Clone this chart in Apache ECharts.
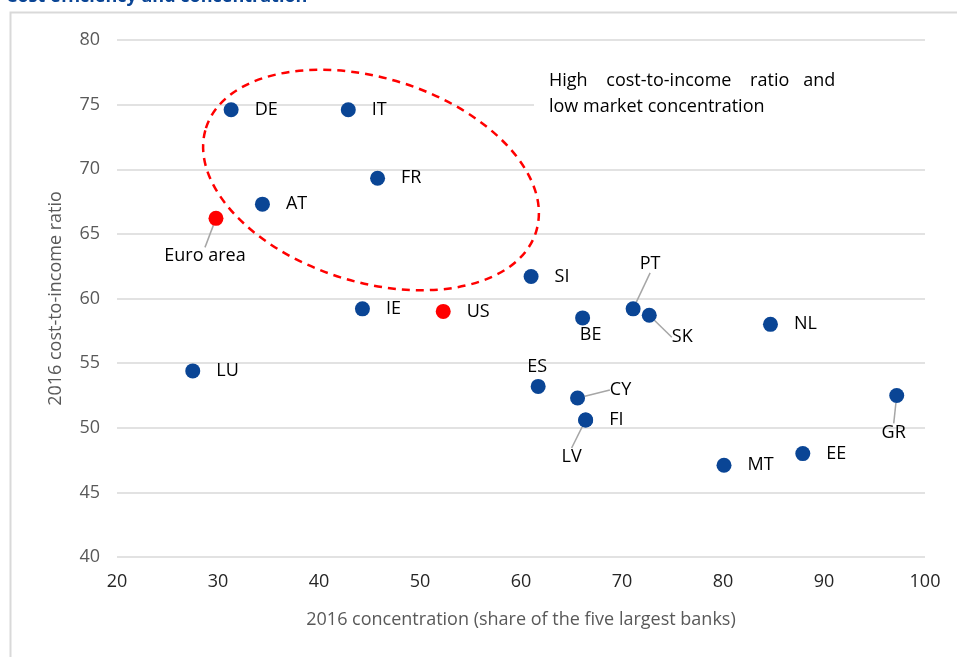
<!DOCTYPE html>
<html>
<head>
<meta charset="utf-8">
<script src="https://cdn.jsdelivr.net/npm/echarts@6/dist/echarts.min.js"></script>
<style>
  html, body { margin: 0; padding: 0; background: #fff; }
  #main { width: 957px; height: 657px; }
</style>
</head>
<body>
<div id="main"></div>
<script>
// countries (concentration, cost-to-income)
const countries = ['DE', 'IT', 'FR', 'AT', 'Euro area', 'SI', 'IE', 'US', 'BE', 'PT', 'SK', 'NL', 'LU', 'ES', 'CY', 'LV', 'FI', 'GR', 'MT', 'EE']
const concentration = [31.3, 42.9, 45.8, 34.4, 29.8, 61.0, 44.3, 52.3, 66.1, 71.1, 72.7, 84.7, 27.5, 61.7, 65.6, 66.4, 66.4, 97.2, 80.1, 87.9]
const costIncome = [74.6, 74.6, 69.3, 67.3, 66.2, 61.7, 59.2, 59.0, 58.5, 59.2, 58.7, 58.0, 54.4, 53.2, 52.3, 50.6, 50.6, 52.5, 47.1, 48.0]
const highlighted = ['Euro area', 'US']
const xTicks = { min: 20, max: 100, interval: 10 }
const yTicks = { min: 40, max: 80, interval: 5 }

// labels that are not simply on the right: offset (px) of label centre from the dot
const labelMoves = {
  'Euro area': { dx: -11, dy: 38, line: true },
  PT: { dx: 17, dy: -45, line: true },
  SK: { dx: 33, dy: 22, line: true },
  BE: { dx: 8, dy: 17 },
  ES: { dx: -1, dy: -20 },
  CY: { dx: 43, dy: -8, line: true },
  LV: { dx: -14, dy: 37, line: true },
  GR: { dx: -3, dy: 37, line: true },
}

const blue = '#0a4595'
const red = '#ff0000'
const font = 'Open Sans'

const points = countries.map((c, i) => {
  const m = labelMoves[c]
  const item = {
    name: c,
    value: [concentration[i], costIncome[i]],
    itemStyle: { color: highlighted.includes(c) ? red : blue, opacity: 1 },
  }
  if (m) {
    item.label = { position: 'inside' }
    item.labelLine = { show: !!m.line }
  }
  return item
})

const chart = echarts.init(document.getElementById('main'))
chart.setOption({
  animation: false,
  textStyle: { fontFamily: font },
  grid: { left: 117, right: 32, top: 40, bottom: 100 },
  xAxis: {
    type: 'value',
    min: xTicks.min,
    max: xTicks.max,
    interval: xTicks.interval,
    name: '2016 concentration (share of the five largest banks)',
    nameLocation: 'middle',
    nameGap: 54,
    nameTextStyle: { color: '#595959', fontSize: 18 },
    axisLine: { show: false },
    axisTick: { show: false },
    splitLine: { show: false },
    axisLabel: { color: '#262626', fontSize: 18, margin: 16 },
  },
  yAxis: {
    type: 'value',
    min: yTicks.min,
    max: yTicks.max,
    interval: yTicks.interval,
    name: '2016 cost-to-income ratio',
    nameLocation: 'middle',
    nameGap: 52,
    nameTextStyle: { color: '#595959', fontSize: 18 },
    axisLine: { show: false },
    axisTick: { show: false },
    splitLine: { lineStyle: { color: '#d9d9d9', width: 1.5 } },
    axisLabel: { color: '#595959', fontSize: 18, margin: 17 },
  },
  series: [
    {
      type: 'scatter',
      symbolSize: 15,
      data: points,
      z: 20,
      label: {
        show: true,
        position: 'right',
        distance: 16,
        color: '#000',
        fontSize: 18,
        formatter: '{b}',
      },
      labelLine: { show: false, lineStyle: { color: '#a6a6a6', width: 1.5 } },
      labelLayout: (p) => {
        const m = labelMoves[countries[p.dataIndex]]
        return m ? { dx: m.dx, dy: m.dy } : {}
      },
    },
  ],
  graphic: [
    {
      type: 'rect',
      left: 8,
      top: 10,
      shape: { width: 980, height: 680 },
      style: { fill: 'none', stroke: '#d9d9d9', lineWidth: 2 },
      silent: true,
    },
    {
      type: 'text',
      left: 6,
      top: -12,
      style: { text: 'Cost efficiency and concentration', fill: blue, font: 'bold 18px "Open Sans"' },
    },
    {
      // white text box that hides the gridline behind the note
      type: 'rect',
      left: 534,
      top: 58,
      z: 5,
      shape: { width: 400, height: 66 },
      style: { fill: '#fff' },
      silent: true,
    },
    {
      type: 'text',
      left: 549,
      top: 68,
      z: 6,
      style: {
        text: 'High    cost-to-income    ratio   and\nlow market concentration',
        fill: '#000',
        font: '18px "Open Sans"',
        lineHeight: 26,
      },
    },
    {
      type: 'ellipse',
      x: 371,
      y: 180,
      rotation: -0.304,
      shape: { cx: 0, cy: 0, rx: 173, ry: 102 },
      style: { fill: 'none', stroke: red, lineWidth: 2.5, lineDash: [8, 6] },
      z: 10,
    },
  ],
})
</script>
</body>
</html>
